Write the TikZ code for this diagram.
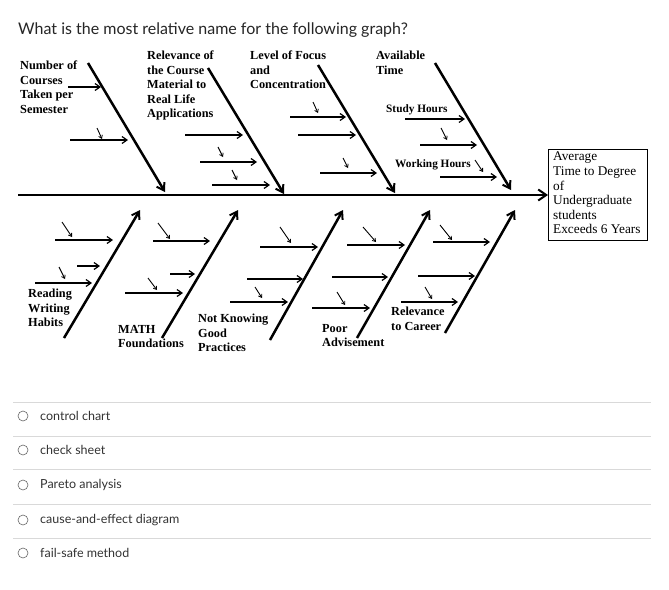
\documentclass[tikz,border=0pt]{standalone}
\usepackage{fontspec}
\setmainfont{Liberation Serif}
\newfontfamily\lato{Lato}
\usetikzlibrary{arrows.meta}
\begin{document}
\begin{tikzpicture}[x=1pt,y=-1pt,
  bone/.style={line width=2.5pt,-{Straight Barb[length=7pt,width=9pt,line width=2pt]}},
  sub/.style={line width=1.4pt,-{Straight Barb[length=5pt,width=7pt,line width=1.2pt]}},
  tiny/.style={line width=0.9pt,-{Straight Barb[length=3pt,width=4pt,line width=0.8pt]}},
  lab/.style={font=\fontsize{12.3}{14.5}\selectfont\bfseries,align=left,inner sep=0pt,anchor=north west},
  opt/.style={font=\lato\fontsize{12.5}{14}\selectfont,text=black!80,anchor=west,inner sep=0pt},
  sep/.style={draw=black!15,line width=0.8pt}]
\useasboundingbox (0,0) rectangle (669,589);
\fill[white] (0,0) rectangle (669,589);
\node[font=\lato\fontsize{16}{18}\selectfont,text=black!85,anchor=west,inner sep=0pt] (title) at (18,30) {What is the most relative name for the following graph?};
% spine and effect
\node[draw,line width=1pt,minimum width=99pt,minimum height=91pt,anchor=north west,inner sep=0pt] (eff) at (548,149) {};
\node[font=\fontsize{13.3}{14.6}\selectfont,align=left,anchor=north west,inner sep=0pt] (efft) at (553,152) {Average\\Time to Degree\\of\\Undergraduate\\students\\Exceeds 6 Years};
\coordinate (s0) at (18,195);
\draw[line width=2.6pt,-{Straight Barb[length=8pt,width=11pt,line width=2pt]}] (s0) -- (eff.west|-s0);
% top bones
\draw[bone] (88,63) -- (165,192);
\draw[bone] (208,68) -- (284,194);
\draw[bone] (318,65) -- (395,193);
\draw[bone] (435,63) -- (511,190);
% top labels
\node[lab] (t1) at (20,61) {Number of\\Courses\\Taken per\\Semester};
\node[lab] (t2) at (147,51) {Relevance of\\the Course\\Material to\\Real Life\\Applications};
\node[lab] (t3) at (250,51) {Level of Focus\\and\\Concentration};
\node[lab] (t4) at (376,51) {Available\\Time};
\node[lab,font=\fontsize{11.3}{12}\selectfont\bfseries] (sh) at (386,104) {Study Hours};
\node[lab,font=\fontsize{11.3}{12}\selectfont\bfseries] (wh) at (395,159) {Working Hours};
% top subs
\draw[sub] (68,87) -- (101,87);
\draw[sub] (70,140) -- (128,140); \draw[tiny] (97,128) -- (102,139);
\draw[sub] (185,135) -- (243,135);
\draw[sub] (200,162) -- (257,162); \draw[tiny] (218,147) -- (223,157);
\draw[sub] (212,185) -- (270,185); \draw[tiny] (232,170) -- (237,180);
\draw[sub] (290,117) -- (346,117); \draw[tiny] (313,102) -- (318,113);
\draw[sub] (298,135) -- (356,135);
\draw[sub] (320,173) -- (377,173); \draw[tiny] (343,158) -- (348,168);
\draw[sub] (405,119) -- (465,119);
\draw[sub] (420,145) -- (477,145); \draw[tiny] (441,128) -- (447,140);
\draw[sub] (440,177) -- (497,177); \draw[tiny] (475,160) -- (483,172);
% bottom bones
\draw[bone] (64,338) -- (140,210);
\draw[bone] (162,338) -- (238,210);
\draw[bone] (270,340) -- (343,210);
\draw[bone] (357,338) -- (430,210);
\draw[bone] (445,333) -- (515,210);
% bottom subs
\draw[sub] (55,240) -- (113,240); \draw[tiny] (62,222) -- (72,237);
\draw[sub] (77,266) -- (100,266);
\draw[sub] (35,283) -- (92,283); \draw[tiny] (59,267) -- (65,279);
\draw[sub] (153,241) -- (210,241); \draw[tiny] (158,223) -- (170,239);
\draw[sub] (170,274) -- (195,274);
\draw[sub] (125,293) -- (183,293); \draw[tiny] (148,278) -- (157,290);
\draw[sub] (260,247) -- (318,247); \draw[tiny] (280,227) -- (291,243);
\draw[sub] (247,279) -- (303,279);
\draw[sub] (230,302) -- (288,302); \draw[tiny] (255,287) -- (262,298);
\draw[sub] (347,245) -- (405,245); \draw[tiny] (363,227) -- (376,242);
\draw[sub] (332,277) -- (388,277);
\draw[sub] (312,308) -- (370,308); \draw[tiny] (337,292) -- (345,305);
\draw[sub] (433,242) -- (490,242); \draw[tiny] (440,225) -- (452,240);
\draw[sub] (418,276) -- (475,276);
\draw[sub] (401,302) -- (458,302); \draw[tiny] (425,287) -- (432,299);
% bottom labels
\node[lab] (b1) at (28,289) {Reading\\Writing\\Habits};
\node[lab] (b2) at (118,325) {MATH\\Foundations};
\node[lab] (b3) at (198,314) {Not Knowing\\Good\\Practices};
\node[lab] (b4) at (322,324) {Poor\\Advisement};
\node[lab] (b5) at (391,307) {Relevance\\to Career};
% options
\foreach \y in {402,436,469,504,538} \draw[sep] (13,\y) -- (651,\y);
\foreach \y/\t [count=\i] in {416/control chart,450/check sheet,485/Pareto analysis,520/cause-and-effect diagram,553/fail-safe method}{
  \node[circle,draw=black!60,line width=0.6pt,minimum size=10pt,inner sep=0pt] (c\i) at (23,\y) {};
  \node[opt] (o\i) at (40,\y) {\t};
}
\end{tikzpicture}
\end{document}
